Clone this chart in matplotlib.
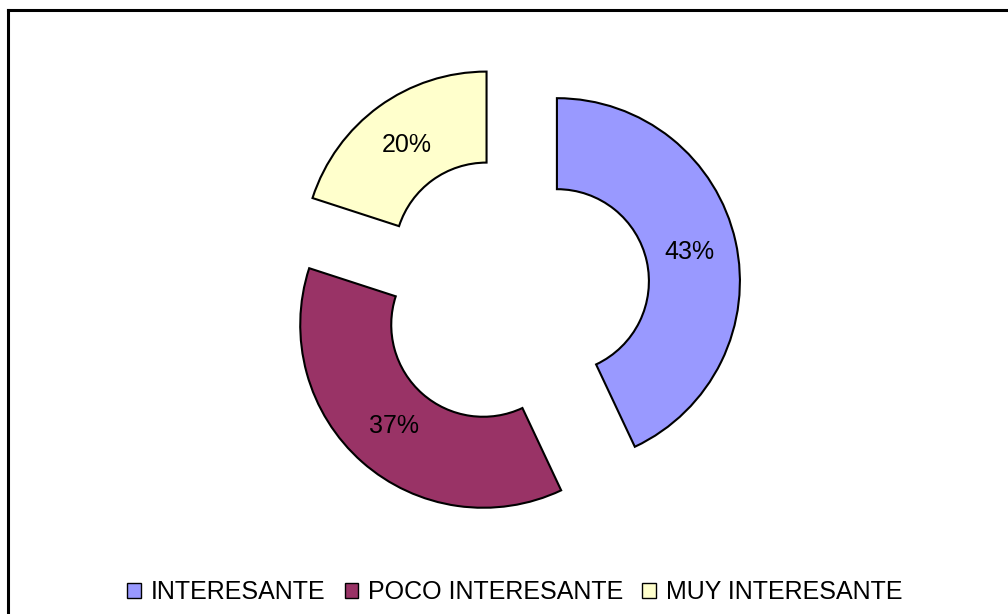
import matplotlib
matplotlib.use("Agg")
import matplotlib.pyplot as plt
from matplotlib.patches import Patch
from matplotlib.lines import Line2D

plt.rcParams['font.family'] = ['Liberation Sans', 'DejaVu Sans']

categories = ['INTERESANTE', 'POCO INTERESANTE', 'MUY INTERESANTE']
values = [43, 37, 20]
colors = ['#9999FF', '#993366', '#FFFFCC']
explode = [45, 45, 45]  # offset in data units (pixels)

fig = plt.figure(figsize=(10.08, 6.14), dpi=100)
ax = fig.add_axes([0, 0, 1, 1])

wedges, texts, autotexts = ax.pie(
    values, colors=colors, explode=explode, startangle=90, counterclock=False,
    center=(513, 323), radius=183, autopct='%1.0f%%', pctdistance=0.74,
    wedgeprops=dict(width=91, edgecolor='black', linewidth=1.5),
    textprops=dict(fontsize=18, color='black'), frame=True)
ax.set_xlim(0, 1008)
ax.set_ylim(0, 614)
ax.set_aspect('equal')
ax.axis('off')

# outer frame (right and bottom edges fall outside the picture)
fig.add_artist(Line2D([8/1008, 8/1008], [0, 1 - 10/614], transform=fig.transFigure,
                      color='black', lw=2.2))
fig.add_artist(Line2D([8/1008, 1.0], [1 - 10/614, 1 - 10/614], transform=fig.transFigure,
                      color='black', lw=2.2))

handles = [Patch(facecolor=c, edgecolor='black', linewidth=1.0) for c in colors]
fig.legend(handles, categories, loc='center', bbox_to_anchor=(515/1008, 1 - 592/614),
           ncol=3, frameon=False, fontsize=18, handlelength=0.55, handleheight=0.55,
           handletextpad=0.4, columnspacing=0.75)

fig.savefig('out.png', dpi=100)
